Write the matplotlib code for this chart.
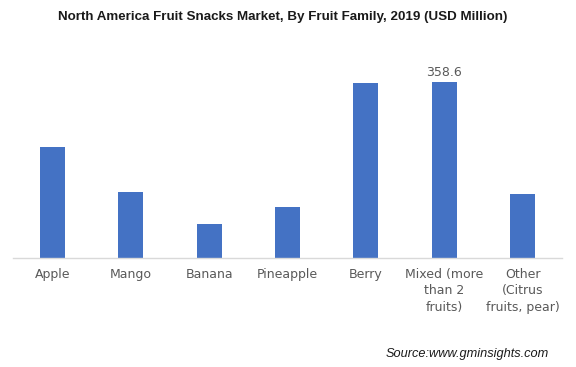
import matplotlib.pyplot as plt

categories = ['Apple', 'Mango', 'Banana', 'Pineapple', 'Berry',
              'Mixed (more\nthan 2\nfruits)', 'Other\n(Citrus\nfruits, pear)']
values = [226.2, 134.5, 69.3, 103.9, 356.6, 358.6, 130.4]
labelled = 5  # only the Mixed bar carries a value label

fig = plt.figure(figsize=(5.76, 3.67), dpi=100)
ax = fig.add_axes([13 / 576, 1 - 258 / 367, 549 / 576, 196 / 367])

x = range(len(categories))
ax.bar(x, values, width=0.32, color='#4472C4', zorder=2)
ax.set_xlim(-0.5, len(categories) - 0.5)
ax.set_ylim(0, 400)

ax.set_xticks(list(x))
ax.set_xticklabels(categories, fontsize=9, color='#595959',
                   family='DejaVu Sans', linespacing=1.35)
ax.tick_params(axis='x', length=0, pad=7)
ax.set_yticks([])
for s in ['top', 'right', 'left']:
    ax.spines[s].set_visible(False)
ax.spines['bottom'].set_color('#D9D9D9')
ax.spines['bottom'].set_linewidth(1)

ax.text(labelled, values[labelled] + 7, f'{values[labelled]:.1f}',
        ha='center', va='bottom', fontsize=9, color='#595959',
        family='DejaVu Sans')

fig.text(283 / 576, 1 - 17 / 367, 'North America Fruit Snacks Market, By Fruit Family, 2019 (USD Million)',
         ha='center', va='center', fontsize=9.6, fontweight='bold',
         family='Liberation Sans', color='#1a1a1a')
fig.text(549 / 576, 1 - 354 / 367, 'Source:www.gminsights.com',
         ha='right', va='center', fontsize=9.2, style='italic',
         family='Liberation Sans', color='#1a1a1a')

fig.savefig('out.png', dpi=100)
